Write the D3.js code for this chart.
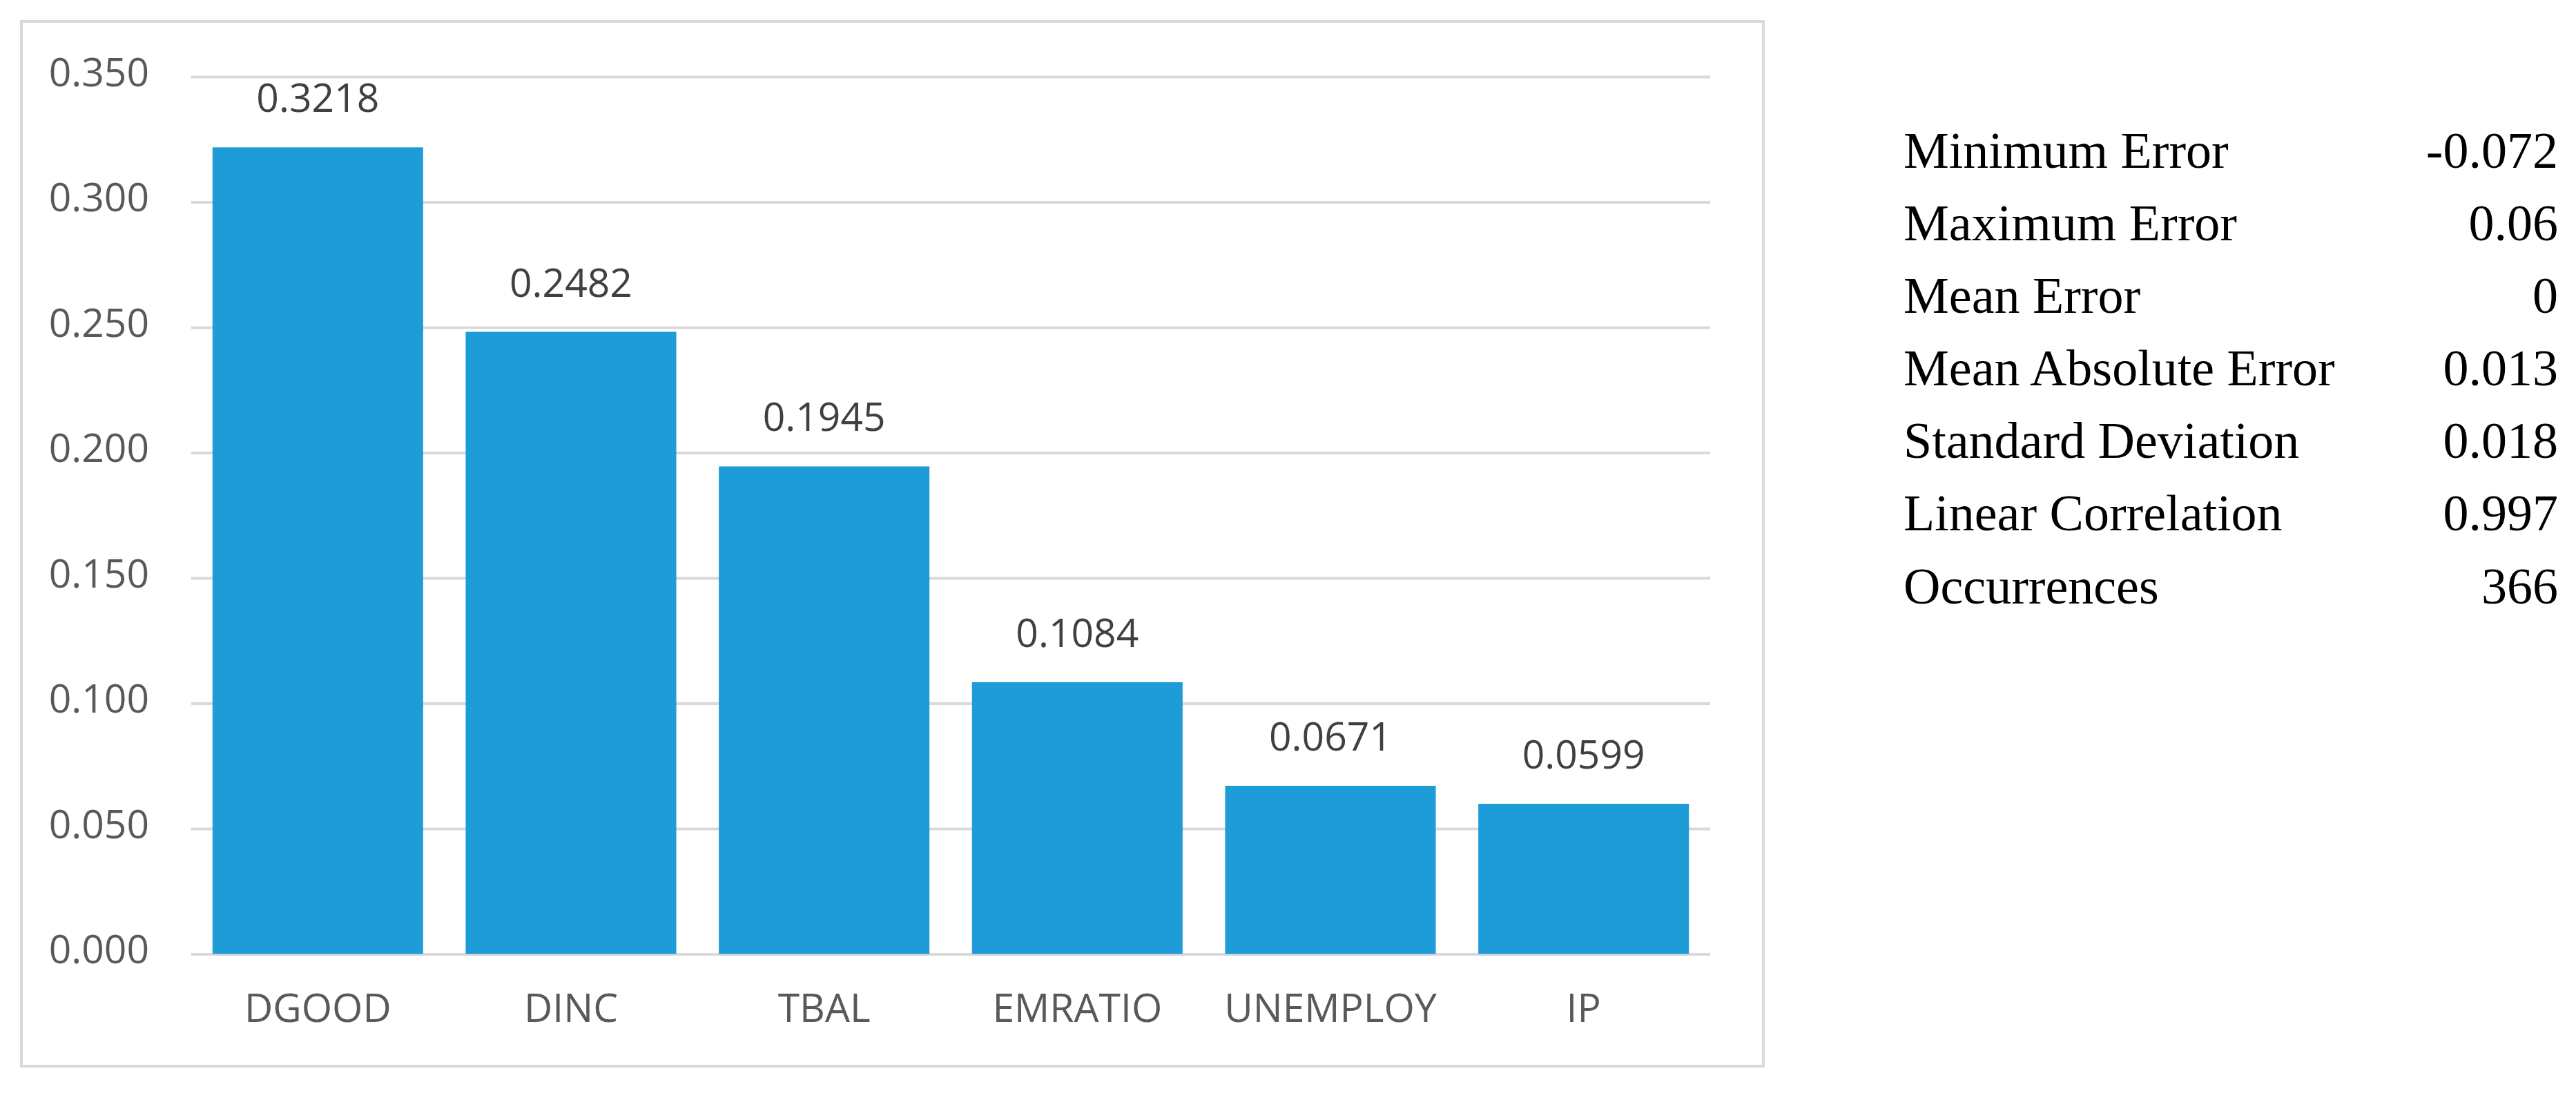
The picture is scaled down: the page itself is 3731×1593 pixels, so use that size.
<!DOCTYPE html>
<html>
<head>
<meta charset="utf-8">
<script src="https://cdn.jsdelivr.net/npm/d3@7"></script>
<style>
  body { margin: 0; background: #fff; }
  .tick-label { font-family: "Open Sans", sans-serif; font-size: 57px; fill: #595959; }
  .value-label { font-family: "Open Sans", sans-serif; font-size: 57px; fill: #404040; }
  .stat { font-family: "Liberation Serif", "Times New Roman", serif; font-size: 74px; fill: #000; }
</style>
</head>
<body>
<div id="chart"></div>
<script>
// data
const categories = ["DGOOD", "DINC", "TBAL", "EMRATIO", "UNEMPLOY", "IP"];
const values = [0.3218, 0.2482, 0.1945, 0.1084, 0.0671, 0.0599];
const yTicks = [0, 0.05, 0.1, 0.15, 0.2, 0.25, 0.3, 0.35];
const statLabels = ["Minimum Error", "Maximum Error", "Mean Error", "Mean Absolute Error",
  "Standard Deviation", "Linear Correlation", "Occurrences"];
const statValues = ["-0.072", "0.06", "0", "0.013", "0.018", "0.997", "366"];

const width = 3731, height = 1593;

const svg = d3.select("#chart")
  .append("svg")
  .attr("width", width)
  .attr("height", height);

// chart frame
svg.append("rect")
  .attr("x", 31)
  .attr("y", 31)
  .attr("width", 2523)
  .attr("height", 1513)
  .attr("fill", "#fff")
  .attr("stroke", "#d9d9d9")
  .attr("stroke-width", 4);

const x = d3.scaleBand()
  .domain(categories)
  .range([277, 2477])
  .paddingInner(0.168)
  .paddingOuter(0.084);

const y = d3.scaleLinear().domain([0, 0.35]).range([1381.5, 111]);

// gridlines + y labels
const yAxis = svg.append("g")
  .call(d3.axisLeft(y).tickValues(yTicks).tickFormat(d3.format(".3f")).tickSize(0));
yAxis.select(".domain").remove();
yAxis.selectAll(".tick line")
  .attr("x1", 277)
  .attr("x2", 2477)
  .attr("stroke", "#d9d9d9")
  .attr("stroke-width", 4);
yAxis.selectAll(".tick text")
  .attr("class", "tick-label")
  .attr("x", 216)
  .attr("dy", 13)
  .attr("dominant-baseline", "alphabetic")
  .attr("text-anchor", "end")
  .attr("font-size", null)
  .attr("font-family", null)
  .attr("fill", null);

// bars
svg.selectAll("rect.bar")
  .data(values)
  .enter()
  .append("rect")
  .attr("class", "bar")
  .attr("x", (d, i) => x(categories[i]))
  .attr("y", d => y(d))
  .attr("width", x.bandwidth())
  .attr("height", d => y(0) - y(d))
  .attr("fill", "#1e9cd7");

// value labels
svg.selectAll("text.val")
  .data(values)
  .enter()
  .append("text")
  .attr("class", "value-label")
  .attr("x", (d, i) => x(categories[i]) + x.bandwidth() / 2)
  .attr("y", d => y(d) - 51)
  .attr("text-anchor", "middle")
  .text(d => d.toFixed(4));

// x labels
const xAxis = svg.append("g")
  .attr("transform", "translate(0,1381.5)")
  .call(d3.axisBottom(x).tickSize(0));
xAxis.select(".domain").remove();
xAxis.selectAll(".tick text")
  .attr("class", "tick-label")
  .attr("y", 98)
  .attr("dy", null)
  .attr("font-size", null)
  .attr("font-family", null)
  .attr("fill", null);

// statistics table
const statY = d3.scalePoint().domain(statLabels).range([243, 873.5]);

svg.selectAll("text.stat-name")
  .data(statLabels)
  .enter()
  .append("text")
  .attr("class", "stat")
  .attr("x", 2757)
  .attr("y", d => statY(d))
  .text(d => d);

svg.selectAll("text.stat-val")
  .data(statValues)
  .enter()
  .append("text")
  .attr("class", "stat")
  .attr("x", 3705)
  .attr("y", (d, i) => statY(statLabels[i]))
  .attr("text-anchor", "end")
  .text(d => d);
</script>
</body>
</html>
